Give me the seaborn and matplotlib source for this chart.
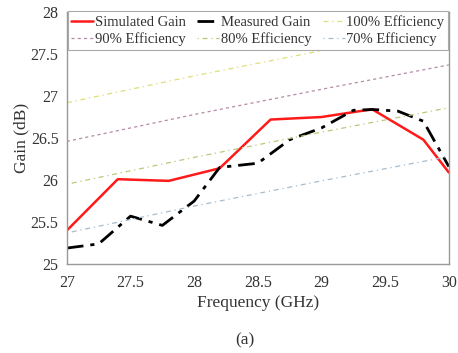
import matplotlib
matplotlib.use("Agg")
import matplotlib.pyplot as plt
import seaborn as sns
import pandas as pd
from matplotlib.ticker import FormatStrFormatter

sns.set_theme(style="white")
plt.rcParams['font.family'] = ['Liberation Serif', 'DejaVu Serif']

# Data
sim_freq = [27.0, 27.4, 27.8, 28.2, 28.6, 29.0, 29.3, 29.4, 29.8, 30.0]
sim_gain = [25.40, 26.01, 25.99, 26.14, 26.72, 26.75, 26.82, 26.84, 26.48, 26.09]

meas_freq = [27.0, 27.25, 27.5, 27.75, 28.0, 28.2, 28.5, 28.75, 29.0, 29.25, 29.4, 29.6, 29.8, 30.0]
meas_gain = [25.19, 25.24, 25.57, 25.46, 25.75, 26.15, 26.20, 26.48, 26.62, 26.83, 26.84, 26.82, 26.70, 26.16]

eff_freq = [27.0, 28.0, 29.0, 30.0]
eff100 = [26.92, 27.24, 27.54, 27.83]
eff90 = [26.46, 26.78, 27.08, 27.37]
eff80 = [25.95, 26.27, 26.57, 26.86]
eff70 = [25.37, 25.69, 25.99, 26.28]

xticks = [27, 27.5, 28, 28.5, 29, 29.5, 30]
yticks = [25, 25.5, 26, 26.5, 27, 27.5, 28]

fig = plt.figure(figsize=(4.58, 3.53), dpi=100)
ax = fig.add_axes([0.146, 0.252, 0.834, 0.714])

sns.lineplot(x=sim_freq, y=sim_gain, ax=ax, color='#ff1a1a', lw=1.8, label='Simulated Gain')
sns.lineplot(x=meas_freq, y=meas_gain, ax=ax, color='black', lw=2.0, linestyle=(0, (6, 2.5, 1.5, 2.5)), label='Measured Gain')
sns.lineplot(x=eff_freq, y=eff100, ax=ax, color='#dede7a', lw=0.9, linestyle=(0, (4, 3, 1, 3)), label='100% Efficiency')
sns.lineplot(x=eff_freq, y=eff90, ax=ax, color='#b88aa8', lw=0.9, linestyle=(0, (2.5, 2.5)), label='90% Efficiency')
sns.lineplot(x=eff_freq, y=eff80, ax=ax, color='#b4cc78', lw=0.9, linestyle=(0, (1, 3, 4, 3)), label='80% Efficiency')
sns.lineplot(x=eff_freq, y=eff70, ax=ax, color='#a8bccc', lw=0.9, linestyle=(0, (1, 3, 4, 3)), label='70% Efficiency')

ax.set_xlim(27, 30)
ax.set_ylim(25, 28)
ax.set_xticks(xticks)
ax.set_yticks(yticks)
ax.xaxis.set_major_formatter(FormatStrFormatter('%g'))
ax.yaxis.set_major_formatter(FormatStrFormatter('%g'))
ax.tick_params(direction='in', length=3, width=0.6, colors='#888888', labelcolor='#333333', labelsize=11.5)
ax.tick_params(axis='x', pad=8)
ax.tick_params(axis='y', pad=6)
for s in ax.spines.values():
    s.set_color('#999999')
    s.set_linewidth(1.0)
ax.set_xlabel('Frequency (GHz)', fontsize=12.5, color='#333333', labelpad=3)
ax.set_ylabel('Gain (dB)', fontsize=12.5, color='#333333', labelpad=1)

handles, labels = ax.get_legend_handles_labels()
order = [0, 3, 1, 4, 2, 5]
leg = ax.legend([handles[i] for i in order], [labels[i] for i in order],
                ncol=3, loc='upper center', bbox_to_anchor=(0.5, 1.003), fontsize=10.5,
                frameon=True, fancybox=False, edgecolor='#aaaaaa', handlelength=1.5,
                handletextpad=0.1, columnspacing=0.8, labelspacing=0.25, borderpad=0.25,
                borderaxespad=0.0, framealpha=1)
leg.get_frame().set_linewidth(0.8)
for t in leg.get_texts():
    t.set_color('#333333')

fig.text(0.535, 0.035, '(a)', ha='center', va='center', fontsize=12.5, color='#333333')

fig.savefig('out.png', dpi=100)
